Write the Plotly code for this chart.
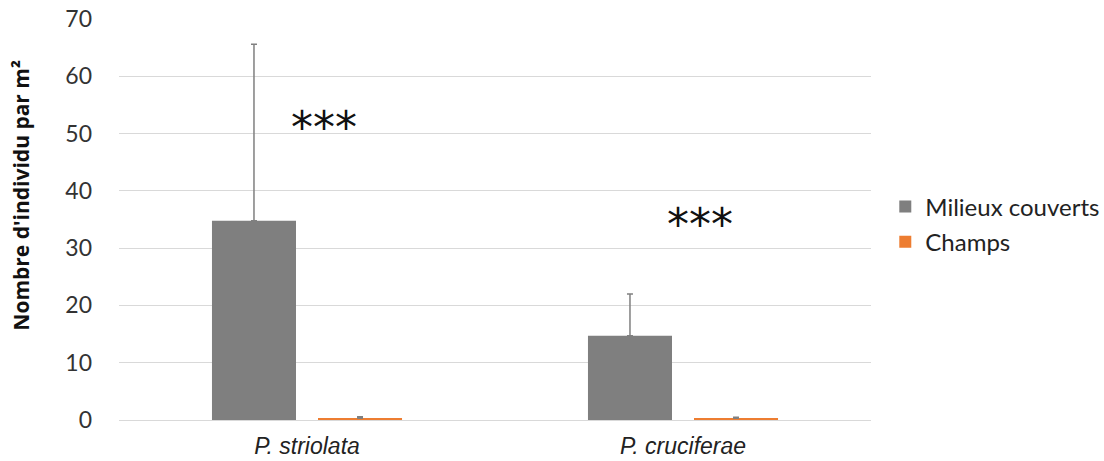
import plotly.graph_objects as go

categories = ["<i>P. striolata</i>", "<i>P. cruciferae</i>"]
milieux = [34.8, 14.7]
milieux_err = [30.8, 7.3]
champs = [0.3, 0.3]
champs_err = [0.25, 0.2]
stars_y = [51, 34.2]
stars_label = "***"
y_title = "Nombre d'individu par m²"

fig = go.Figure()
fig.add_trace(go.Bar(
    x=categories, y=milieux, name="Milieux couverts", legendgroup="a",
    marker=dict(color="#7f7f7f", line=dict(width=0)),
    error_y=dict(type="data", array=milieux_err, arrayminus=[0, 0], symmetric=False,
                 color="#808080", thickness=1.5, width=3),
))
fig.add_trace(go.Bar(
    x=categories, y=champs, name="Champs", legendgroup="b",
    marker=dict(color="#ED7D31", line=dict(width=0)),
    error_y=dict(type="data", array=champs_err, arrayminus=[0, 0], symmetric=False,
                 color="#808080", thickness=1.5, width=3),
))

for i, c in enumerate(categories):
    fig.add_annotation(x=c, y=stars_y[i], text=stars_label, showarrow=False,
                       xshift=17, font=dict(size=44, color="#111111", family="DejaVu Sans"))

# y-axis title (placed as rotated text, slightly above plot centre like the reference)
fig.add_annotation(xref="paper", yref="paper", x=-0.13, y=0.56, text=y_title,
                   textangle=-90, showarrow=False, xanchor="center", yanchor="middle",
                   font=dict(family="Open Sans", size=21, color="#111111", weight="bold"))

fig.update_layout(
    width=1104, height=461,
    margin=dict(l=119, r=233, t=19, b=41, autoexpand=False),
    paper_bgcolor="white", plot_bgcolor="white",
    barmode="group", bargap=0.436, bargroupgap=0.2075,
    font=dict(family="Lato, Open Sans, sans-serif", color="#404040"),
    legend=dict(x=1.019, y=0.4875, xanchor="left", yanchor="middle",
                font=dict(size=24, color="#222222"), tracegroupgap=1, itemwidth=30),
    showlegend=True,
)
fig.update_xaxes(
    tickfont=dict(family="Liberation Sans, Arial", size=23, color="#222222"),
    showgrid=False, showline=False, ticks="", ticklabelstandoff=10, automargin=False,
)
fig.update_yaxes(
    range=[0, 70], dtick=10, showgrid=True, gridcolor="#d9d9d9", gridwidth=1,
    zeroline=True, zerolinecolor="#d9d9d9", zerolinewidth=1, automargin=False,
    tickfont=dict(size=23, color="#333333"), ticklabelstandoff=26,
)

fig.write_html("out.html")
